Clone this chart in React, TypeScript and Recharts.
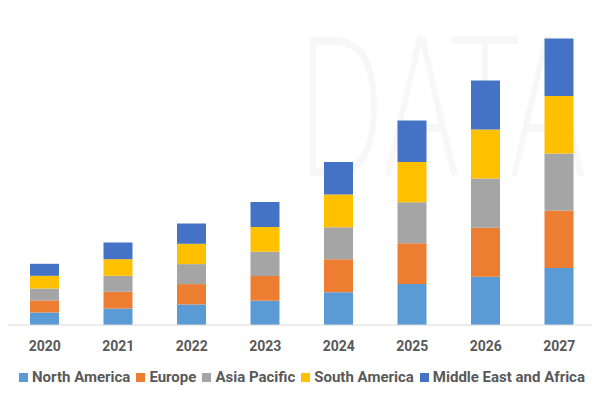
import { BarChart, Bar, XAxis, YAxis, Legend } from 'recharts';

const years = ['2020', '2021', '2022', '2023', '2024', '2025', '2026', '2027'];
const northAmerica = [12.5, 16.5, 20.6, 24.3, 32.7, 41.0, 48.3, 57.0];
const europe = [12.0, 16.7, 20.3, 24.7, 33.0, 40.7, 49.0, 57.3];
const asiaPacific = [12.0, 16.0, 20.0, 24.3, 32.0, 41.0, 49.3, 57.3];
const southAmerica = [12.7, 16.6, 20.3, 24.7, 32.7, 40.3, 49.0, 57.4];
const middleEastAfrica = [12.0, 16.7, 20.3, 25.0, 32.6, 41.4, 49.0, 57.4];

const series = [
  { key: 'North America', values: northAmerica, color: '#5B9BD5' },
  { key: 'Europe', values: europe, color: '#ED7D31' },
  { key: 'Asia Pacific', values: asiaPacific, color: '#A5A5A5' },
  { key: 'South America', values: southAmerica, color: '#FFC000' },
  { key: 'Middle East and Africa', values: middleEastAfrica, color: '#4472C4' },
];

const data = years.map((year, i) => {
  const row: Record<string, string | number> = { year };
  for (const s of series) row[s.key] = s.values[i];
  return row;
});

const font = 'Roboto, "Liberation Sans", sans-serif';

function LegendRow() {
  return (
    <div
      style={{
        display: 'flex',
        justifyContent: 'center',
        alignItems: 'center',
        height: 44,
        fontFamily: font,
        fontWeight: 700,
        fontSize: 15,
        color: '#595959',
        whiteSpace: 'nowrap',
      }}
    >
      {series.map((s, i) => (
        <div
          key={s.key}
          style={{ display: 'flex', alignItems: 'center', marginRight: i < series.length - 1 ? 6 : 0 }}
        >
          <span style={{ width: 9, height: 9, background: s.color, marginRight: 4, display: 'inline-block' }} />
          <span>{s.key}</span>
        </div>
      ))}
    </div>
  );
}

export default function App() {
  return (
    <div style={{ position: 'relative', width: 592, height: 391 }}>
      <div
        style={{
          position: 'absolute',
          left: 288,
          top: 8,
          fontFamily: '"DejaVu Sans", sans-serif',
          fontWeight: 200,
          fontSize: 190,
          letterSpacing: -6,
          color: '#f7f7f7',
          transform: 'scaleX(0.62)',
          transformOrigin: 'left top',
          lineHeight: 1,
        }}
      >
        DATA
      </div>
      <div style={{ position: 'absolute', left: 0, top: 0 }}>
        <BarChart width={592} height={391} data={data} margin={{ top: 17, right: 4, left: 0, bottom: 0 }}>
          <XAxis
            dataKey="year"
            height={30}
            tickLine={false}
            tickMargin={10}
            axisLine={{ stroke: '#d9d9d9' }}
            tick={{ fill: '#595959', fontSize: 14, fontWeight: 700, fontFamily: font }}
          />
          <YAxis hide domain={[0, 300]} />
          <Legend verticalAlign="bottom" height={44} content={() => <LegendRow />} />
          {series.map((s) => (
            <Bar key={s.key} dataKey={s.key} stackId="a" fill={s.color} barSize={29} isAnimationActive={false} />
          ))}
        </BarChart>
      </div>
    </div>
  );
}
